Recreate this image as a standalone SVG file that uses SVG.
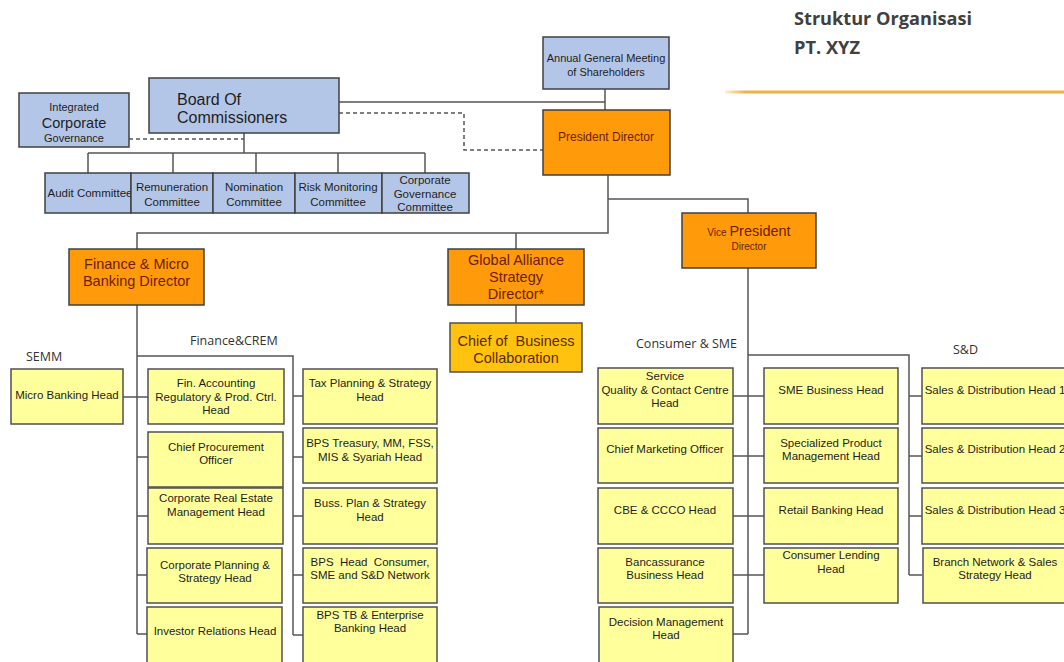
<svg xmlns="http://www.w3.org/2000/svg" width="1064" height="662" viewBox="0 0 1064 662">
  <defs>
    <linearGradient id="rule" x1="0" y1="0" x2="1" y2="0">
      <stop offset="0" stop-color="#f2b04a" stop-opacity="0.2"/>
      <stop offset="0.06" stop-color="#f2b04a" stop-opacity="1"/>
      <stop offset="1" stop-color="#f2b04a" stop-opacity="1"/>
    </linearGradient>
    <style>
      .blue { fill: #b4c6e7; stroke: #404040; stroke-width: 1.5; }
      .orange { fill: #ff9a0a; stroke: #404040; stroke-width: 1.5; }
      .gold { fill: #ffc20e; stroke: #505050; stroke-width: 1.5; }
      .yellow { fill: #ffff9c; stroke: #505050; stroke-width: 1.5; }
      text { font-family: "Liberation Sans", Arial, sans-serif; fill: #1e1e1e; }
      .c { text-anchor: middle; }
      .s { font-size: 11.5px; }
      .m { font-size: 14.5px; }
      .dir { fill: #6e1d08; }
      .gcol { fill: #5a2a00; }
      .sec { font-family: "Open Sans", "Liberation Sans", sans-serif; font-size: 12.5px; fill: #333333; }
      .title { font-family: "Open Sans", "Liberation Sans", sans-serif; font-size: 17px; font-weight: bold; fill: #404040; }
      .ln { fill: none; stroke: #555555; stroke-width: 1.5; }
      .dash { fill: none; stroke: #555555; stroke-width: 1.5; stroke-dasharray: 4 3; }
    </style>
  </defs>

  <!-- heading -->
  <g id="heading">
    <text class="title" x="794" y="25" textLength="178" lengthAdjust="spacingAndGlyphs">Struktur Organisasi</text>
    <text class="title" x="794" y="54" textLength="66" lengthAdjust="spacingAndGlyphs">PT. XYZ</text>
    <rect x="725" y="90.5" width="339" height="3" fill="url(#rule)"/>
  </g>

  <!-- connectors -->
  <g id="connectors">
    <!-- governance -->
    <path class="ln" d="M339 102 H605 M605 89 V110"/>
    <path class="dash" d="M339 113 H464 V150 H543"/>
    <path class="dash" d="M129 139 H244"/>
    <path class="ln" d="M244 133 V153 M88 153 H425 M88 153 V173 M173 153 V173 M256 153 V173 M338 153 V173 M425 153 V173"/>
    <!-- directors -->
    <path class="ln" d="M608 175 V233 H137 V249 M516 233 V249 M608 199 H748 V213 M516 305 V323"/>
    <!-- finance & micro banking -->
    <path class="ln" d="M137 305 V634 M123 397 H148 M137 457 H148 M137 516 H148 M137 575 H148 M137 634 H148"/>
    <path class="ln" d="M137 356 H293 V635 M293 396 H303 M293 457 H303 M293 516 H303 M293 575 H303 M293 635 H303"/>
    <!-- consumer & SME -->
    <path class="ln" d="M748 268 V634 M733 396 H764 M733 456 H764 M733 516 H764 M733 575 H764 M733 634 H748"/>
    <path class="ln" d="M748 355 H909 V575 M909 396 H922 M909 456 H922 M909 516 H922 M909 575 H922"/>
  </g>

  <!-- governance bodies -->
  <g id="agm">
    <rect class="blue" x="543" y="37" width="126" height="52"/>
    <text class="c" x="606" y="62" font-size="11">Annual General Meeting</text>
    <text class="c" x="606" y="76" font-size="11">of Shareholders</text>
  </g>
  <g id="board">
    <rect class="blue" x="149" y="78" width="190" height="55"/>
    <text x="177" y="105" font-size="16">Board Of</text>
    <text x="177" y="123" font-size="16">Commissioners</text>
  </g>
  <g id="icg">
    <rect class="blue" x="19" y="93" width="110" height="54"/>
    <text class="c" x="74" y="111" font-size="11">Integrated</text>
    <text class="c" x="74" y="128" font-size="14.5">Corporate</text>
    <text class="c" x="74" y="142" font-size="11">Governance</text>
  </g>
  <g id="audit">
    <rect class="blue" x="45" y="173" width="86" height="40"/>
    <text class="c s" x="90" y="197">Audit Committee</text>
  </g>
  <g id="remuneration">
    <rect class="blue" x="131" y="173" width="82" height="40"/>
    <text class="c s" x="172" y="191">Remuneration</text>
    <text class="c s" x="172" y="206">Committee</text>
  </g>
  <g id="nomination">
    <rect class="blue" x="213" y="173" width="82" height="40"/>
    <text class="c s" x="254" y="191">Nomination</text>
    <text class="c s" x="254" y="206">Committee</text>
  </g>
  <g id="risk">
    <rect class="blue" x="295" y="173" width="87" height="40"/>
    <text class="c s" x="338" y="191">Risk Monitoring</text>
    <text class="c s" x="338" y="206">Committee</text>
  </g>
  <g id="cgc">
    <rect class="blue" x="382" y="173" width="87" height="40"/>
    <text class="c s" x="425" y="184">Corporate</text>
    <text class="c s" x="425" y="198">Governance</text>
    <text class="c s" x="425" y="211">Committee</text>
  </g>

  <!-- directors -->
  <g id="president">
    <rect class="orange" x="543" y="110" width="127" height="65"/>
    <text class="c dir" x="606" y="141" font-size="12">President Director</text>
  </g>
  <g id="vice-president">
    <rect class="orange" x="682" y="213" width="134" height="55"/>
    <text class="c dir" x="749" y="236"><tspan font-size="10">Vice </tspan><tspan font-size="14.5">President</tspan></text>
    <text class="c dir" x="749" y="250" font-size="10">Director</text>
  </g>
  <g id="finance-director">
    <rect class="orange" x="69" y="249" width="135" height="56"/>
    <text class="c m dir" x="136.5" y="269">Finance &amp; Micro</text>
    <text class="c m dir" x="136.5" y="286">Banking Director</text>
  </g>
  <g id="global-alliance">
    <rect class="orange" x="448" y="249" width="136" height="56"/>
    <text class="c m dir" x="516" y="265">Global Alliance</text>
    <text class="c m dir" x="516" y="282">Strategy</text>
    <text class="c m dir" x="516" y="299">Director*</text>
  </g>
  <g id="business-collaboration">
    <rect class="gold" x="450" y="323" width="132" height="49"/>
    <text class="c m gcol" x="516" y="346" xml:space="preserve">Chief of  Business</text>
    <text class="c m gcol" x="516" y="363">Collaboration</text>
  </g>

  <!-- section labels -->
  <g id="labels">
    <text class="sec" x="26" y="361">SEMM</text>
    <text class="sec" x="190" y="345">Finance&amp;CREM</text>
    <text class="sec" x="636" y="348">Consumer &amp; SME</text>
    <text class="sec" x="953" y="354">S&amp;D</text>
  </g>

  <!-- SEMM -->
  <g id="micro-banking">
    <rect class="yellow" x="11" y="369" width="112" height="55"/>
    <text class="c s" x="67" y="399">Micro Banking Head</text>
  </g>

  <!-- Finance & CREM, first column -->
  <g id="fin-accounting">
    <rect class="yellow" x="148" y="369" width="136" height="55"/>
    <text class="c s" x="216" y="387">Fin. Accounting</text>
    <text class="c s" x="216" y="401">Regulatory &amp; Prod. Ctrl.</text>
    <text class="c s" x="216" y="414">Head</text>
  </g>
  <g id="procurement">
    <rect class="yellow" x="148" y="432" width="135" height="55"/>
    <text class="c s" x="216" y="451">Chief Procurement</text>
    <text class="c s" x="216" y="464">Officer</text>
  </g>
  <g id="real-estate">
    <rect class="yellow" x="148" y="488" width="135" height="56"/>
    <text class="c s" x="216" y="502">Corporate Real Estate</text>
    <text class="c s" x="216" y="516">Management Head</text>
  </g>
  <g id="corporate-planning">
    <rect class="yellow" x="147" y="548" width="135" height="55"/>
    <text class="c s" x="215" y="569">Corporate Planning &amp;</text>
    <text class="c s" x="215" y="582">Strategy Head</text>
  </g>
  <g id="investor-relations">
    <rect class="yellow" x="147" y="607" width="135" height="62"/>
    <text class="c s" x="215" y="635">Investor Relations Head</text>
  </g>

  <!-- Finance & CREM, second column -->
  <g id="tax-planning">
    <rect class="yellow" x="303" y="369" width="134" height="55"/>
    <text class="c s" x="370" y="387">Tax Planning &amp; Strategy</text>
    <text class="c s" x="370" y="401">Head</text>
  </g>
  <g id="bps-treasury">
    <rect class="yellow" x="303" y="428" width="134" height="55"/>
    <text class="c s" x="370" y="447">BPS Treasury, MM, FSS,</text>
    <text class="c s" x="370" y="461">MIS &amp; Syariah Head</text>
  </g>
  <g id="buss-plan">
    <rect class="yellow" x="303" y="488" width="134" height="56"/>
    <text class="c s" x="370" y="507">Buss. Plan &amp; Strategy</text>
    <text class="c s" x="370" y="521">Head</text>
  </g>
  <g id="bps-consumer">
    <rect class="yellow" x="303" y="548" width="134" height="55"/>
    <text class="c s" x="370" y="566" xml:space="preserve">BPS  Head  Consumer,</text>
    <text class="c s" x="370" y="579">SME and S&amp;D Network</text>
  </g>
  <g id="bps-tb">
    <rect class="yellow" x="303" y="607" width="134" height="62"/>
    <text class="c s" x="370" y="619">BPS TB &amp; Enterprise</text>
    <text class="c s" x="370" y="632">Banking Head</text>
  </g>

  <!-- Consumer & SME, first column -->
  <g id="service-quality">
    <rect class="yellow" x="598" y="368" width="135" height="56"/>
    <text class="c s" x="665" y="380">Service</text>
    <text class="c s" x="665" y="394">Quality &amp; Contact Centre</text>
    <text class="c s" x="665" y="407">Head</text>
  </g>
  <g id="marketing">
    <rect class="yellow" x="598" y="428" width="135" height="55"/>
    <text class="c s" x="665" y="453">Chief Marketing Officer</text>
  </g>
  <g id="cbe-ccco">
    <rect class="yellow" x="598" y="488" width="135" height="56"/>
    <text class="c s" x="665" y="514">CBE &amp; CCCO Head</text>
  </g>
  <g id="bancassurance">
    <rect class="yellow" x="598" y="548" width="135" height="55"/>
    <text class="c s" x="665" y="566">Bancassurance</text>
    <text class="c s" x="665" y="579">Business Head</text>
  </g>
  <g id="decision-management">
    <rect class="yellow" x="599" y="607" width="134" height="62"/>
    <text class="c s" x="666" y="626">Decision Management</text>
    <text class="c s" x="666" y="639">Head</text>
  </g>

  <!-- Consumer & SME, second column -->
  <g id="sme-business">
    <rect class="yellow" x="764" y="368" width="134" height="56"/>
    <text class="c s" x="831" y="394">SME Business Head</text>
  </g>
  <g id="specialized-product">
    <rect class="yellow" x="764" y="428" width="134" height="55"/>
    <text class="c s" x="831" y="447">Specialized Product</text>
    <text class="c s" x="831" y="460">Management Head</text>
  </g>
  <g id="retail-banking">
    <rect class="yellow" x="764" y="488" width="134" height="56"/>
    <text class="c s" x="831" y="514">Retail Banking Head</text>
  </g>
  <g id="consumer-lending">
    <rect class="yellow" x="764" y="548" width="134" height="55"/>
    <text class="c s" x="831" y="559">Consumer Lending</text>
    <text class="c s" x="831" y="573">Head</text>
  </g>

  <!-- S&D -->
  <g id="sd-head-1">
    <rect class="yellow" x="922" y="368" width="150" height="56"/>
    <text class="c s" x="995" y="394">Sales &amp; Distribution Head 1</text>
  </g>
  <g id="sd-head-2">
    <rect class="yellow" x="922" y="428" width="150" height="55"/>
    <text class="c s" x="995" y="453">Sales &amp; Distribution Head 2</text>
  </g>
  <g id="sd-head-3">
    <rect class="yellow" x="922" y="488" width="150" height="56"/>
    <text class="c s" x="995" y="514">Sales &amp; Distribution Head 3</text>
  </g>
  <g id="branch-network">
    <rect class="yellow" x="923" y="548" width="149" height="55"/>
    <text class="c s" x="995" y="566">Branch Network &amp; Sales</text>
    <text class="c s" x="995" y="579">Strategy Head</text>
  </g>
</svg>
